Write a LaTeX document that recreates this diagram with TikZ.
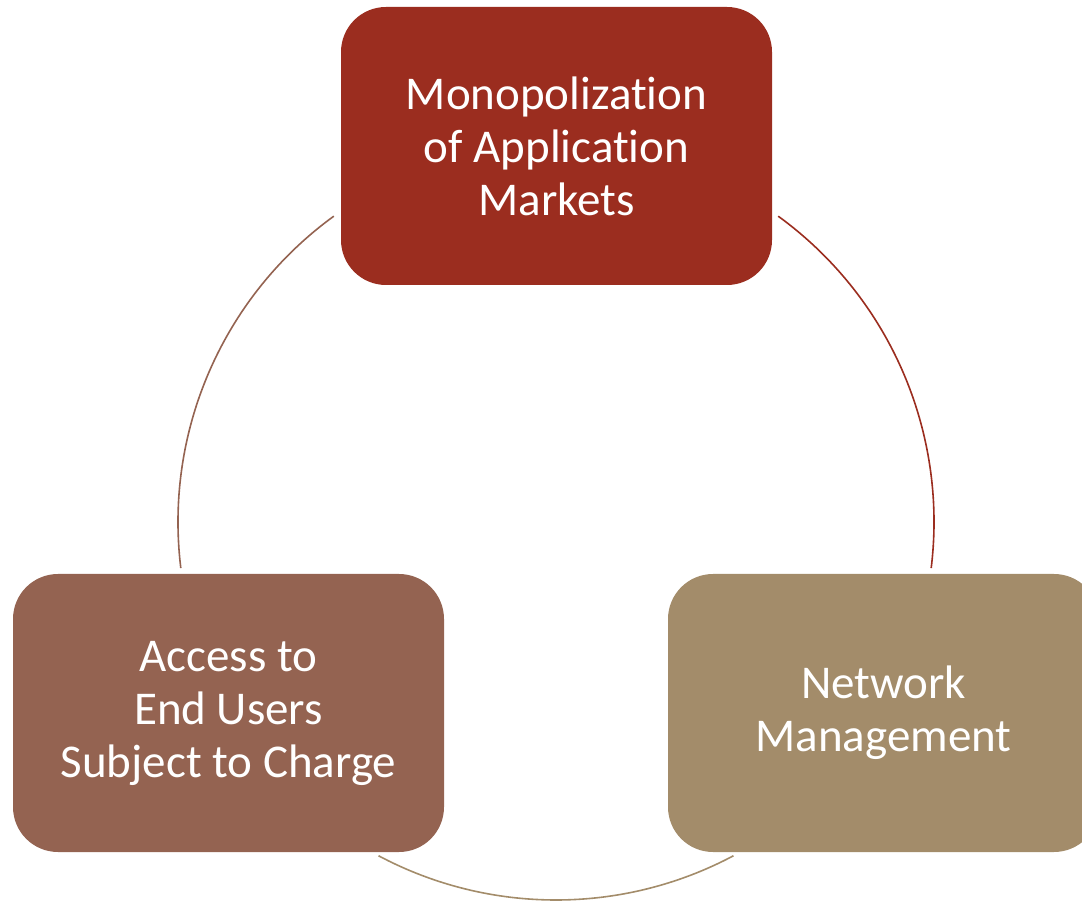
\documentclass[tikz,border=0pt]{standalone}
\usepackage{fontspec}
\setmainfont[Ligatures={NoCommon}]{Carlito}
\usepackage{tikz}
\usetikzlibrary{positioning,calc}
\definecolor{boxred}{RGB}{155,45,31}
\definecolor{boxbrown}{RGB}{148,99,81}
\definecolor{boxtan}{RGB}{163,140,106}

\begin{document}
\begin{tikzpicture}[x=1pt,y=1pt,
  cyclebox/.style={rounded corners=45pt, minimum width=431pt, minimum height=278pt,
    text=white, align=center, inner sep=0pt, font=\fontsize{47}{53}\selectfont},
  cyclearc/.style={line width=1.6pt}]
\useasboundingbox (0,0) rectangle (1082,903);
\clip (0,0) rectangle (1082,903);
% Circle behind the boxes
\coordinate (c) at (556,381);
% Arcs
\draw[cyclearc, boxred] ($(c)+(54:378)$) arc[start angle=54, end angle=-7, radius=378];
\draw[cyclearc, boxtan] ($(c)+(-62:378)$) arc[start angle=-62, end angle=-118, radius=378];
\draw[cyclearc, boxbrown] ($(c)+(126:378)$) arc[start angle=126, end angle=187, radius=378];
% Boxes
\node[cyclebox, fill=boxred] (monopoly) at (556.5,757) {Monopolization\\of Application\\Markets};
\node[cyclebox, fill=boxtan] (network) at (883.5,190) {Network\\Management};
\node[cyclebox, fill=boxbrown] (access) at (228.5,190) {Access to\\End Users\\Subject to Charge};
\end{tikzpicture}
\end{document}
